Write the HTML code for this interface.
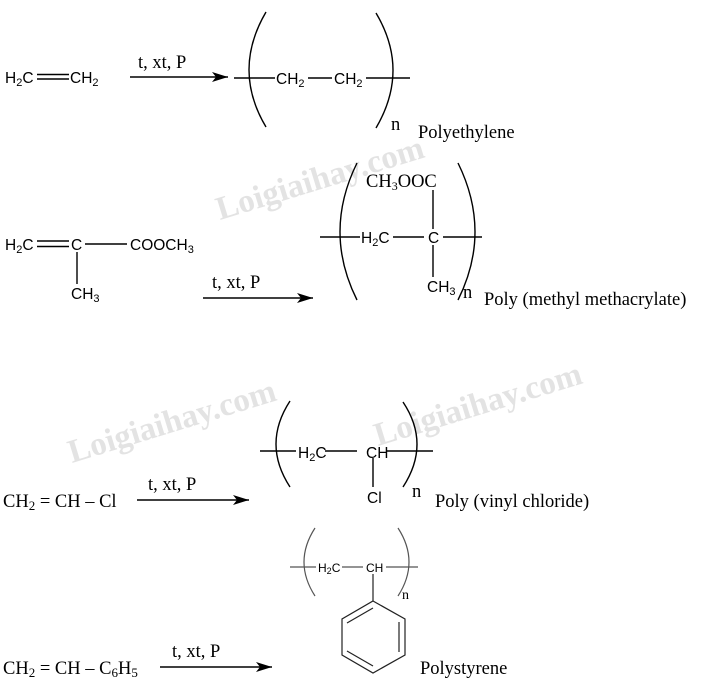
<!DOCTYPE html>
<html><head><meta charset="utf-8"><style>
html,body{margin:0;padding:0;background:#fff;}
svg{display:block;}
.s{font-family:"Liberation Sans",sans-serif;font-size:15.5px;fill:#000;}
.r{font-family:"Liberation Serif",serif;font-size:18.5px;fill:#000;}
.rs{font-family:"Liberation Serif",serif;font-size:18.5px;fill:#000;}
.w{font-family:"Liberation Serif",serif;font-size:33px;font-weight:bold;fill:#e3e3e3;}
</style></head><body>
<svg width="707" height="687" viewBox="0 0 707 687" xmlns="http://www.w3.org/2000/svg">
<defs><marker id="a" markerWidth="16" markerHeight="10" refX="16" refY="5" orient="auto" markerUnits="userSpaceOnUse"><path d="M0,0 L16,5 L0,10 L4,5 z" fill="#000"/></marker></defs>
<text class="w" x="220" y="220" transform="rotate(-17 220 220)">Loigiaihay.com</text>
<text class="w" x="72" y="463" transform="rotate(-17 72 463)">Loigiaihay.com</text>
<text class="w" x="378" y="446" transform="rotate(-17 378 446)">Loigiaihay.com</text>
<g stroke="#000" stroke-width="1.4" fill="none">
<line x1="37" y1="74.5" x2="69" y2="74.5"/><line x1="37" y1="79" x2="69" y2="79"/>
<line x1="130" y1="77" x2="228" y2="77" marker-end="url(#a)"/>
<line x1="234" y1="78" x2="275" y2="78"/><line x1="308" y1="78" x2="332" y2="78"/><line x1="366" y1="78" x2="410" y2="78"/>
<path d="M266,12 Q232,70 266,127"/><path d="M376,13 Q410,70 376,128"/>
<line x1="37" y1="241" x2="69" y2="241"/><line x1="37" y1="246.5" x2="69" y2="246.5"/>
<line x1="85" y1="244" x2="127" y2="244"/><line x1="77" y1="252" x2="77" y2="284"/>
<line x1="203" y1="298" x2="313" y2="298" marker-end="url(#a)"/>
<line x1="320" y1="237" x2="360" y2="237"/><line x1="393" y1="237" x2="424" y2="237"/><line x1="443" y1="237" x2="482" y2="237"/>
<line x1="433" y1="190" x2="433" y2="229"/><line x1="433" y1="245" x2="433" y2="277"/>
<path d="M357,163 Q323,232 357,300"/><path d="M458,163 Q492,232 458,300"/>
<line x1="137" y1="500" x2="249" y2="500" marker-end="url(#a)"/>
<line x1="260" y1="451" x2="296" y2="451"/><line x1="325" y1="451" x2="357" y2="451"/><line x1="386" y1="451" x2="433" y2="451"/>
<line x1="373" y1="458" x2="373" y2="487"/>
<path d="M290,401 Q262,444 290,487"/><path d="M403,402 Q431,444 403,487"/>
<line x1="160" y1="667" x2="272" y2="667" marker-end="url(#a)"/>
</g>
<g stroke="#555" stroke-width="1.2" fill="none">
<line x1="290" y1="567" x2="316" y2="567"/><line x1="342" y1="567" x2="363" y2="567"/><line x1="386" y1="567" x2="418" y2="567"/>
<path d="M315,528 Q293,562 315,596"/><path d="M398,528 Q420,562 398,596"/>
</g>
<g stroke="#222" stroke-width="1.2" fill="none">
<line x1="373" y1="574" x2="373" y2="601"/>
<path d="M373,601 L405,619 L405,655 L373,673 L342,655 L342,619 Z"/>
<line x1="347" y1="623" x2="373" y2="608"/><line x1="399" y1="622" x2="399" y2="652"/><line x1="347" y1="651" x2="373" y2="666"/>
</g>
<text class="s" x="5" y="83">H<tspan font-size="11" dy="3">2</tspan><tspan dy="-3">C</tspan></text>
<text class="s" x="70" y="83">CH<tspan font-size="11" dy="3">2</tspan></text>
<text class="rs" x="138" y="68">t, xt, P</text>
<text class="s" x="276" y="84">CH<tspan font-size="11" dy="3">2</tspan></text>
<text class="s" x="334" y="84">CH<tspan font-size="11" dy="3">2</tspan></text>
<text class="rs" x="391" y="130">n</text>
<text class="rs" x="418" y="138">Polyethylene</text>

<text class="s" x="5" y="250">H<tspan font-size="11" dy="3">2</tspan><tspan dy="-3">C</tspan></text>
<text class="s" x="71" y="250">C</text>
<text class="s" x="130" y="250">COOCH<tspan font-size="11" dy="3">3</tspan></text>
<text class="s" x="71" y="299">CH<tspan font-size="11" dy="3">3</tspan></text>
<text class="rs" x="212" y="288">t, xt, P</text>
<text class="rs" x="366" y="187">CH<tspan font-size="12" dy="3">3</tspan><tspan dy="-3">OOC</tspan></text>
<text class="s" x="361" y="243">H<tspan font-size="11" dy="3">2</tspan><tspan dy="-3">C</tspan></text>
<text class="s" x="428" y="243">C</text>
<text class="s" x="427" y="292">CH<tspan font-size="11" dy="3">3</tspan></text>
<text class="rs" x="463" y="298">n</text>
<text class="rs" x="484" y="305">Poly (methyl methacrylate)</text>

<text class="r" x="3" y="507">CH<tspan font-size="13" dy="3">2</tspan><tspan dy="-3"> = CH – Cl</tspan></text>
<text class="rs" x="148" y="490">t, xt, P</text>
<text class="s" x="298" y="458">H<tspan font-size="11" dy="3">2</tspan><tspan dy="-3">C</tspan></text>
<text class="s" x="366" y="458">CH</text>
<text class="s" x="367" y="503">Cl</text>
<text class="rs" x="412" y="497">n</text>
<text class="rs" x="435" y="507">Poly (vinyl chloride)</text>

<text class="s" x="318" y="572" style="font-size:12px">H<tspan font-size="9" dy="2">2</tspan><tspan dy="-2">C</tspan></text>
<text class="s" x="366" y="572" style="font-size:12px">CH</text>
<text class="rs" x="402" y="599" style="font-size:14px">n</text>
<text class="r" x="3" y="674">CH<tspan font-size="13" dy="3">2</tspan><tspan dy="-3"> = CH – C</tspan><tspan font-size="13" dy="3">6</tspan><tspan dy="-3">H</tspan><tspan font-size="13" dy="3">5</tspan></text>
<text class="rs" x="172" y="657">t, xt, P</text>
<text class="rs" x="420" y="674">Polystyrene</text>
</svg>
</body></html>
